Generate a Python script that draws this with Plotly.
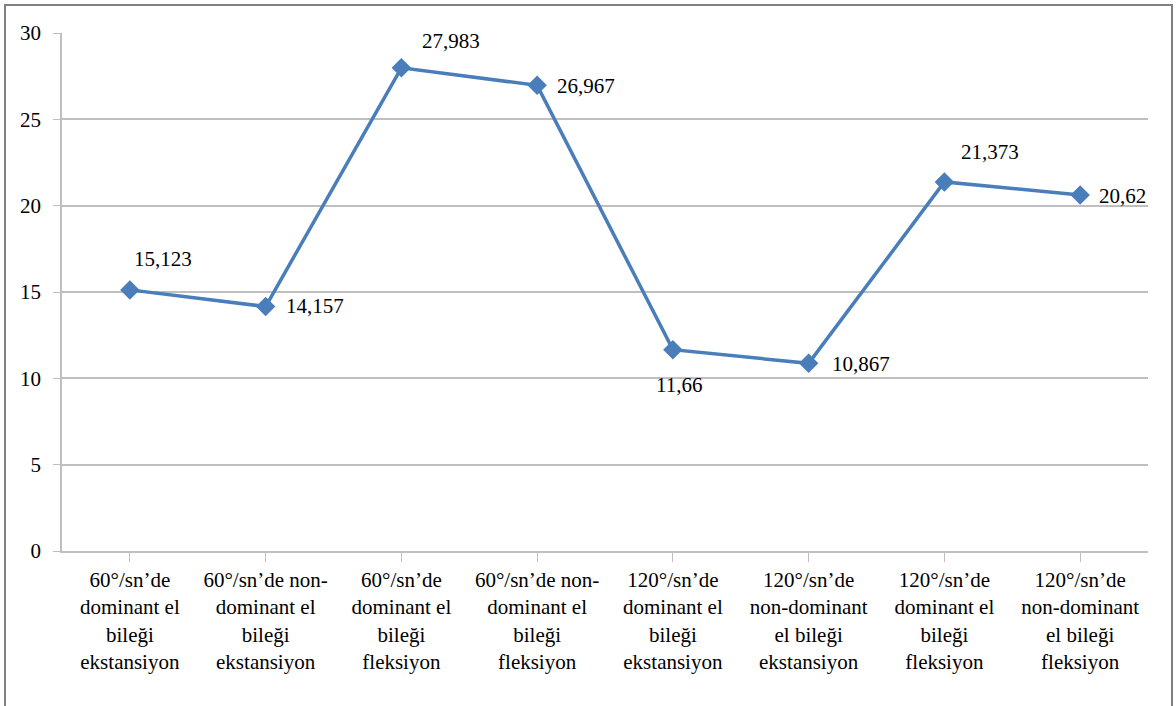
import plotly.graph_objects as go

categories = [
    "60°/sn’de<br>dominant el<br>bileği<br>ekstansiyon",
    "60°/sn’de non-<br>dominant el<br>bileği<br>ekstansiyon",
    "60°/sn’de<br>dominant el<br>bileği<br>fleksiyon",
    "60°/sn’de non-<br>dominant el<br>bileği<br>fleksiyon",
    "120°/sn’de<br>dominant el<br>bileği<br>ekstansiyon",
    "120°/sn’de<br>non-dominant<br>el bileği<br>ekstansiyon",
    "120°/sn’de<br>dominant el<br>bileği<br>fleksiyon",
    "120°/sn’de<br>non-dominant<br>el bileği<br>fleksiyon",
]
values = [15.123, 14.157, 27.983, 26.967, 11.66, 10.867, 21.373, 20.62]
labels = ["15,123", "14,157", "27,983", "26,967", "11,66", "10,867", "21,373", "20,62"]
# label placement offsets (pixels)
label_dx = [33, 49, 50, 49, 6, 52, 46, 42]
label_dy = [31, 1, 27, -1, -35, -1, 30, -1]

FONT = "Liberation Serif"
LINE = "#4a7ebb"
GRID = "#bfbfbf"

fig = go.Figure()
fig.add_trace(go.Scatter(
    x=list(range(len(categories))), y=values, mode="lines+markers",
    line=dict(color=LINE, width=3.5),
    marker=dict(symbol="diamond", size=15, color=LINE),
    showlegend=False, hoverinfo="skip",
))

for i, (v, t) in enumerate(zip(values, labels)):
    fig.add_annotation(x=i, y=v, text=t, showarrow=False,
                       xshift=label_dx[i], yshift=label_dy[i],
                       font=dict(family=FONT, size=21, color="#000000"))

fig.add_shape(type="rect", xref="paper", yref="paper",
              x0=(5 - 62) / 1086, x1=(1172 - 62) / 1086,
              y0=(551 - 712) / 518, y1=(551 - 5) / 518,
              line=dict(color="#808080", width=2), fillcolor="rgba(0,0,0,0)",
              layer="below")

fig.update_layout(
    width=1176, height=706,
    margin=dict(l=62, r=28, t=33, b=155, autoexpand=False),
    paper_bgcolor="white", plot_bgcolor="white",
    font=dict(family=FONT, size=21, color="#000000"),
    xaxis=dict(
        tickmode="array", tickvals=list(range(len(categories))), ticktext=categories,
        range=[-0.5, len(categories) - 0.5],
        showgrid=False, showline=True, linecolor=GRID, linewidth=1.5,
        ticks="outside", tickson="boundaries", ticklen=9, tickcolor=GRID,
        tickangle=0, tickfont=dict(family=FONT, size=21, color="#000000"),
        zeroline=False, automargin=False,
    ),
    yaxis=dict(
        range=[0, 30], tickvals=[0, 5, 10, 15, 20, 25, 30],
        showgrid=True, gridcolor=GRID, gridwidth=1.5,
        showline=True, linecolor=GRID, linewidth=1.5,
        ticks="outside", ticklen=7, tickcolor=GRID,
        zeroline=False, tickfont=dict(family=FONT, size=21, color="#000000"),
        ticklabelstandoff=8, automargin=False,
    ),
)

fig.write_html("out.html", config={"displayModeBar": False},
               post_script="document.body.style.margin='0';")
